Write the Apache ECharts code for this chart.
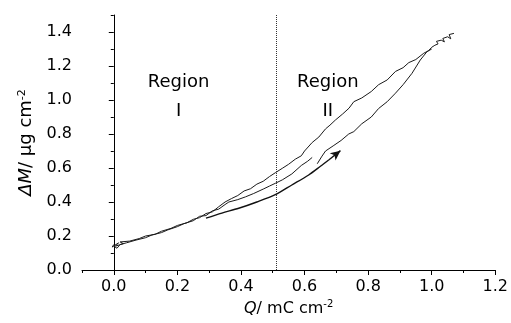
<!DOCTYPE html>
<html>
<head>
<meta charset="utf-8">
<script src="https://cdn.jsdelivr.net/npm/echarts@6/dist/echarts.min.js"></script>
<style>
  html, body { margin: 0; padding: 0; background: #fff; }
  #chart { width: 511px; height: 323px; }
</style>
</head>
<body>
<div id="chart"></div>
<script>
// tick labels
const xTicks = [0, 0.2, 0.4, 0.6, 0.8, 1.0, 1.2];
const xMinorTicks = [-0.1, 0.1, 0.3, 0.5, 0.7, 0.9, 1.1];
const yTicks = [0, 0.2, 0.4, 0.6, 0.8, 1.0, 1.2, 1.4];
const yMinorTicks = [0.1, 0.3, 0.5, 0.7, 0.9, 1.1, 1.3, 1.5];

// Q (mC cm-2) vs ΔM (µg cm-2), upper branch of the loop
const upperBranch = [
  [0.00, 0.15], [-0.005, 0.135], [0.015, 0.16], [0.005, 0.14], [0.03, 0.155], [0.02, 0.165],
  [0.05, 0.17], [0.08, 0.185], [0.10, 0.20], [0.13, 0.21], [0.15, 0.228], [0.18, 0.245],
  [0.20, 0.262], [0.23, 0.278], [0.25, 0.298], [0.27, 0.308], [0.29, 0.332], [0.31, 0.342],
  [0.33, 0.372], [0.35, 0.40], [0.37, 0.42], [0.39, 0.438], [0.41, 0.465], [0.43, 0.478],
  [0.45, 0.505], [0.47, 0.522], [0.49, 0.55], [0.508, 0.572], [0.53, 0.598], [0.55, 0.622],
  [0.571, 0.652], [0.59, 0.672], [0.60, 0.70], [0.624, 0.75], [0.645, 0.782], [0.666, 0.83],
  [0.68, 0.852], [0.697, 0.882], [0.72, 0.918], [0.74, 0.952], [0.755, 0.99], [0.78, 1.012],
  [0.81, 1.05], [0.833, 1.09], [0.86, 1.118], [0.886, 1.168], [0.91, 1.19], [0.928, 1.22],
  [0.95, 1.238], [0.975, 1.275], [0.99, 1.29], [1.00, 1.31], [0.995, 1.30], [1.01, 1.322],
  [1.02, 1.33], [1.015, 1.345], [1.03, 1.352], [1.04, 1.342], [1.035, 1.362], [1.05, 1.372],
  [1.06, 1.36], [1.055, 1.385], [1.07, 1.392]
];

// lower branch of the loop (break near Q = 0.63 as in the trace)
const lowerBranch = [
  [0.00, 0.14], [0.01, 0.128], [0.02, 0.15], [0.04, 0.16], [0.07, 0.176], [0.10, 0.19],
  [0.12, 0.206], [0.15, 0.22], [0.17, 0.236], [0.20, 0.255], [0.22, 0.272], [0.25, 0.29],
  [0.27, 0.316], [0.29, 0.32], [0.31, 0.348], [0.33, 0.358], [0.35, 0.385], [0.362, 0.40],
  [0.39, 0.414], [0.414, 0.43], [0.44, 0.45], [0.47, 0.476], [0.49, 0.494], [0.508, 0.51],
  [0.53, 0.53], [0.56, 0.565], [0.59, 0.615], [0.61, 0.64], [0.624, 0.662], [0.632, '-'],
  [0.64, 0.625], [0.655, 0.67], [0.666, 0.70], [0.69, 0.73], [0.715, 0.762], [0.739, 0.80],
  [0.755, 0.814], [0.78, 0.86], [0.81, 0.90], [0.833, 0.95], [0.86, 0.99], [0.886, 1.04],
  [0.91, 1.09], [0.938, 1.157], [0.964, 1.235], [0.985, 1.284], [1.00, 1.30]
];

// direction arrow drawn under the loop
const arrowPath = [
  [0.29, 0.305], [0.34, 0.335], [0.393, 0.363], [0.45, 0.40], [0.508, 0.443],
  [0.56, 0.50], [0.613, 0.559], [0.65, 0.61], [0.676, 0.647], [0.713, 0.702]
];

const boundaryQ = 0.51;
const regionTexts = ['Region\nI', 'Region\nII'];
const regionAnchors = [[0.204, 1.02], [0.673, 1.02]];

const font = 'DejaVu Sans';
const chart = echarts.init(document.getElementById('chart'), null, { renderer: 'canvas' });

const axisLine = { show: true, lineStyle: { color: '#000', width: 1 } };

const option = {
  animation: false,
  backgroundColor: '#fff',
  grid: { left: 82, right: 14, top: 15, bottom: 53, containLabel: false },
  xAxis: [
    {
      type: 'value', min: -0.1, max: 1.2,
      axisLine,
      axisTick: { show: true, customValues: xTicks, length: 5, lineStyle: { color: '#000' } },
      axisLabel: {
        customValues: xTicks, margin: 9, color: '#000', fontFamily: font, fontSize: 16,
        formatter: (v) => v.toFixed(1)
      },
      splitLine: { show: false },
      name: '{i|Q}/ mC cm{sup|-2}',
      nameLocation: 'middle', nameGap: 26,
      nameTextStyle: {
        color: '#000', fontFamily: font, fontSize: 16,
        rich: {
          i: { fontStyle: 'italic', fontFamily: font, fontSize: 16, color: '#000' },
          sup: { fontFamily: font, fontSize: 10, verticalAlign: 'top', padding: [0, 0, 8, 0], color: '#000' }
        }
      }
    },
    {
      type: 'value', min: -0.1, max: 1.2, position: 'bottom',
      axisLine: { show: false },
      axisTick: { show: true, customValues: xMinorTicks, length: 3, lineStyle: { color: '#000' } },
      axisLabel: { show: false },
      splitLine: { show: false }
    }
  ],
  yAxis: [
    {
      type: 'value', min: 0, max: 1.5,
      axisLine,
      axisTick: { show: true, customValues: yTicks, length: 5, lineStyle: { color: '#000' } },
      axisLabel: {
        customValues: yTicks, margin: 10, color: '#000', fontFamily: font, fontSize: 16,
        formatter: (v) => v.toFixed(1)
      },
      splitLine: { show: false },
      name: '{i|ΔM}/ μg cm{sup|-2}',
      nameLocation: 'middle', nameGap: 44, nameRotate: 90,
      nameTextStyle: {
        color: '#000', fontFamily: font, fontSize: 18,
        rich: {
          i: { fontStyle: 'italic', fontFamily: font, fontSize: 18, color: '#000' },
          sup: { fontFamily: font, fontSize: 11, verticalAlign: 'top', padding: [0, 0, 9, 0], color: '#000' }
        }
      }
    },
    {
      type: 'value', min: 0, max: 1.5, position: 'left',
      axisLine: { show: false },
      axisTick: { show: true, customValues: yMinorTicks, length: 3, lineStyle: { color: '#000' } },
      axisLabel: { show: false },
      splitLine: { show: false }
    }
  ],
  series: [
    {
      name: 'upper', type: 'line', data: upperBranch,
      symbol: 'none', silent: true,
      lineStyle: { color: '#1a1a1a', width: 1 },
      markLine: {
        silent: true, symbol: ['none', 'none'], label: { show: false },
        lineStyle: { type: 'dotted', color: '#333', width: 1 },
        data: [{ xAxis: boundaryQ }]
      }
    },
    {
      name: 'lower', type: 'line', data: lowerBranch,
      symbol: 'none', silent: true, connectNulls: false,
      lineStyle: { color: '#1a1a1a', width: 1 }
    },
    {
      name: 'arrow', type: 'line', data: arrowPath.slice(0, -1),
      symbol: 'none', silent: true, smooth: 0.3,
      lineStyle: { color: '#111', width: 1.4 },
      markLine: {
        silent: true, label: { show: false },
        symbol: ['none', 'arrow'], symbolSize: [7, 10],
        lineStyle: { type: 'solid', color: '#111', width: 1.4 },
        data: [[
          { coord: arrowPath[arrowPath.length - 2] },
          { coord: arrowPath[arrowPath.length - 1] }
        ]]
      }
    },
    {
      name: 'regions', type: 'scatter', symbolSize: 0, silent: true,
      itemStyle: { opacity: 1 },
      data: regionAnchors.map((p, i) => [p[0], p[1], regionTexts[i]]),
      label: {
        show: true, position: 'inside', formatter: (p) => p.data[2],
        color: '#000', opacity: 1, fontFamily: font, fontSize: 18, lineHeight: 29, align: 'center'
      }
    }
  ]
};

chart.setOption(option);
</script>
</body>
</html>
